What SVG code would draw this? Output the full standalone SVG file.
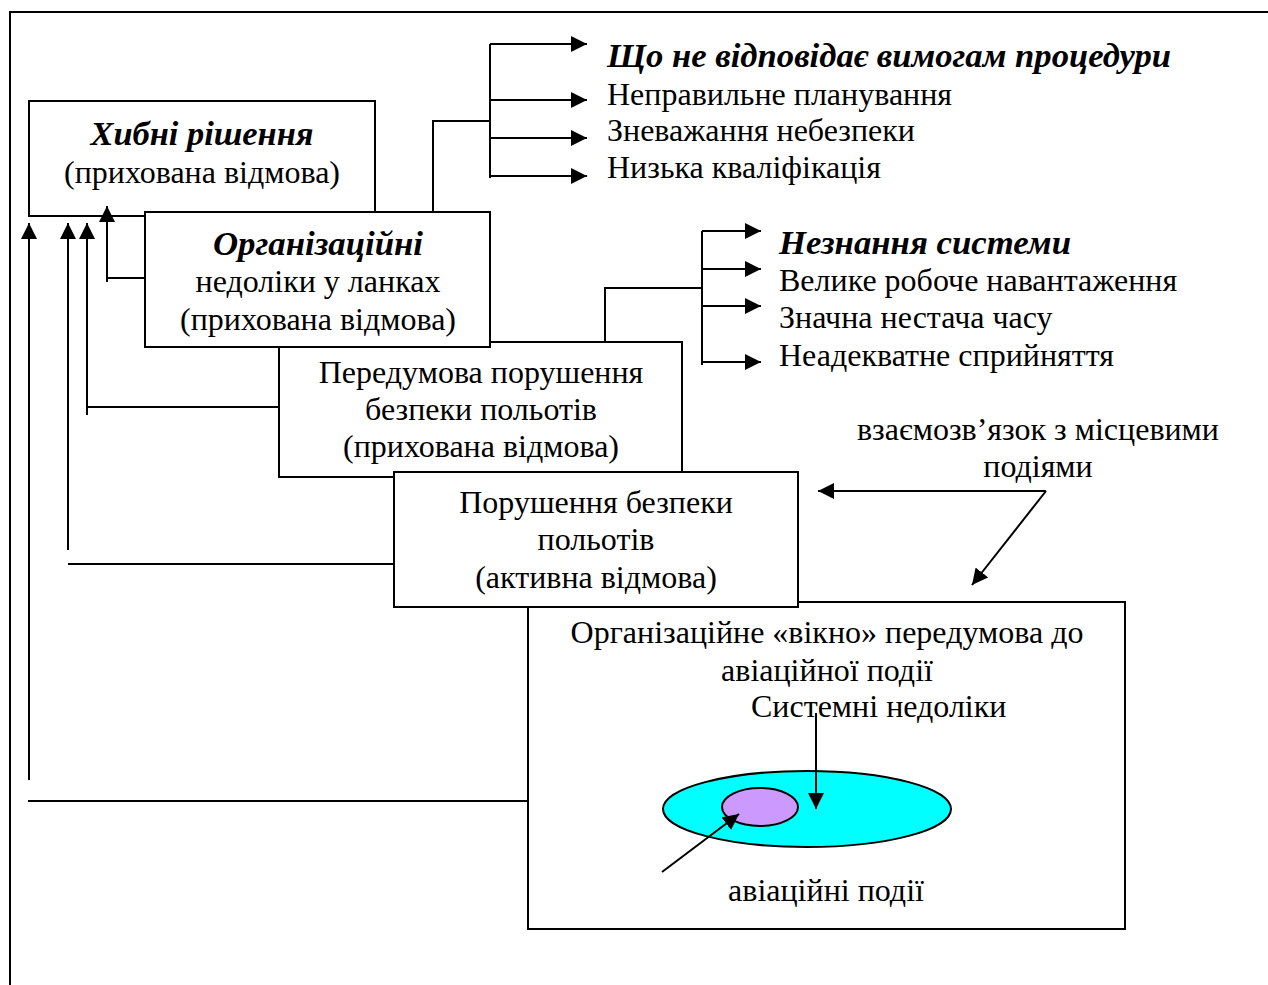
<svg xmlns="http://www.w3.org/2000/svg" width="1268" height="985" viewBox="0 0 1268 985">
<defs>
<marker id="ah" markerUnits="userSpaceOnUse" markerWidth="16" markerHeight="16" viewBox="0 0 16 16" refX="16" refY="8" orient="auto">
<path d="M0,0 L16,8 L0,16 z" fill="#000"/>
</marker>
<style>
.t{font-family:"Liberation Serif","Times New Roman",serif;font-size:32px;fill:#000}
.c{text-anchor:middle}
.bi{font-weight:bold;font-style:italic;font-size:34px}
.box{fill:#fff;stroke:#000;stroke-width:2}
.ln{fill:none;stroke:#000;stroke-width:2}
.ar{fill:none;stroke:#000;stroke-width:2;marker-end:url(#ah)}
</style>
</defs>
<rect width="1268" height="985" fill="#fff"/>
<g id="frame"><path class="ln" d="M10,985 L10,12 L1268,12"/></g>

<g id="box1"><rect class="box" x="29" y="101" width="346" height="115"/>
<text class="t c bi" x="202" y="145" textLength="223" lengthAdjust="spacingAndGlyphs">Хибні рішення</text>
<text class="t c" x="202" y="183">(прихована відмова)</text></g>

<g id="box3"><rect class="box" x="279" y="342" width="403" height="135"/>
<text class="t c" x="481" y="383">Передумова порушення</text>
<text class="t c" x="481" y="420">безпеки польотів</text>
<text class="t c" x="481" y="457">(прихована відмова)</text></g>

<g id="box5"><rect class="box" x="528" y="602" width="597" height="327"/>
<text class="t c" x="827" y="643">Організаційне «вікно» передумова до</text>
<text class="t c" x="827" y="681">авіаційної події</text>
<text class="t" x="751" y="717">Системні недоліки</text>
<ellipse cx="807" cy="809" rx="144" ry="38" fill="#00ffff" stroke="#000" stroke-width="2"/>
<ellipse cx="760" cy="807" rx="38" ry="19" fill="#cc99ff" stroke="#000" stroke-width="2"/>
<text class="t c" x="826" y="901">авіаційні події</text></g>

<g id="box2"><rect class="box" x="145" y="212" width="345" height="135"/>
<text class="t c bi" x="318" y="255" textLength="210" lengthAdjust="spacingAndGlyphs">Організаційні</text>
<text class="t c" x="318" y="292">недоліки у ланках</text>
<text class="t c" x="318" y="330">(прихована відмова)</text></g>

<g id="box4"><rect class="box" x="394" y="472" width="404" height="135"/>
<text class="t c" x="596" y="513">Порушення безпеки</text>
<text class="t c" x="596" y="550">польотів</text>
<text class="t c" x="596" y="588">(активна відмова)</text></g>

<g id="list1">
<text class="t bi" x="607" y="67" textLength="564" lengthAdjust="spacingAndGlyphs">Що не відповідає вимогам процедури</text>
<text class="t" x="607" y="105">Неправильне планування</text>
<text class="t" x="607" y="141">Зневажання небезпеки</text>
<text class="t" x="607" y="178">Низька кваліфікація</text></g>

<g id="list2">
<text class="t bi" x="779" y="254" textLength="292" lengthAdjust="spacingAndGlyphs">Незнання системи</text>
<text class="t" x="779" y="291">Велике робоче навантаження</text>
<text class="t" x="779" y="328">Значна нестача часу</text>
<text class="t" x="779" y="366">Неадекватне сприйняття</text></g>

<g id="label"><text class="t c" x="1038" y="440">взаємозв’язок з місцевими</text>
<text class="t c" x="1038" y="477">подіями</text></g>

<g id="connectors">
<path class="ln" d="M433,212 L433,121 L490,121"/>
<path class="ln" d="M490,44 L490,178"/>
<path class="ar" d="M490,44 L587,44"/>
<path class="ar" d="M490,100 L587,100"/>
<path class="ar" d="M490,138 L587,138"/>
<path class="ar" d="M490,176 L587,176"/>
<path class="ln" d="M605,342 L605,288 L702,288"/>
<path class="ln" d="M702,231 L702,365"/>
<path class="ar" d="M702,231 L761,231"/>
<path class="ar" d="M702,269 L761,269"/>
<path class="ar" d="M702,306 L761,306"/>
<path class="ar" d="M702,362 L761,362"/>
<path class="ar" d="M29,780 L29,223"/>
<path class="ln" d="M28,801 L528,801"/>
<path class="ar" d="M68,550 L68,223"/>
<path class="ln" d="M68,564 L394,564"/>
<path class="ar" d="M87,415 L87,223"/>
<path class="ln" d="M87,407 L279,407"/>
<path class="ar" d="M107,282 L107,206"/>
<path class="ln" d="M107,278 L145,278"/>
<path class="ar" d="M1046,491 L818,491"/>
<path class="ar" d="M1046,491 L972,585"/>
<path class="ar" d="M816,713 L816,809"/>
<path class="ar" d="M662,872 L739,814"/>
</g>
</svg>
